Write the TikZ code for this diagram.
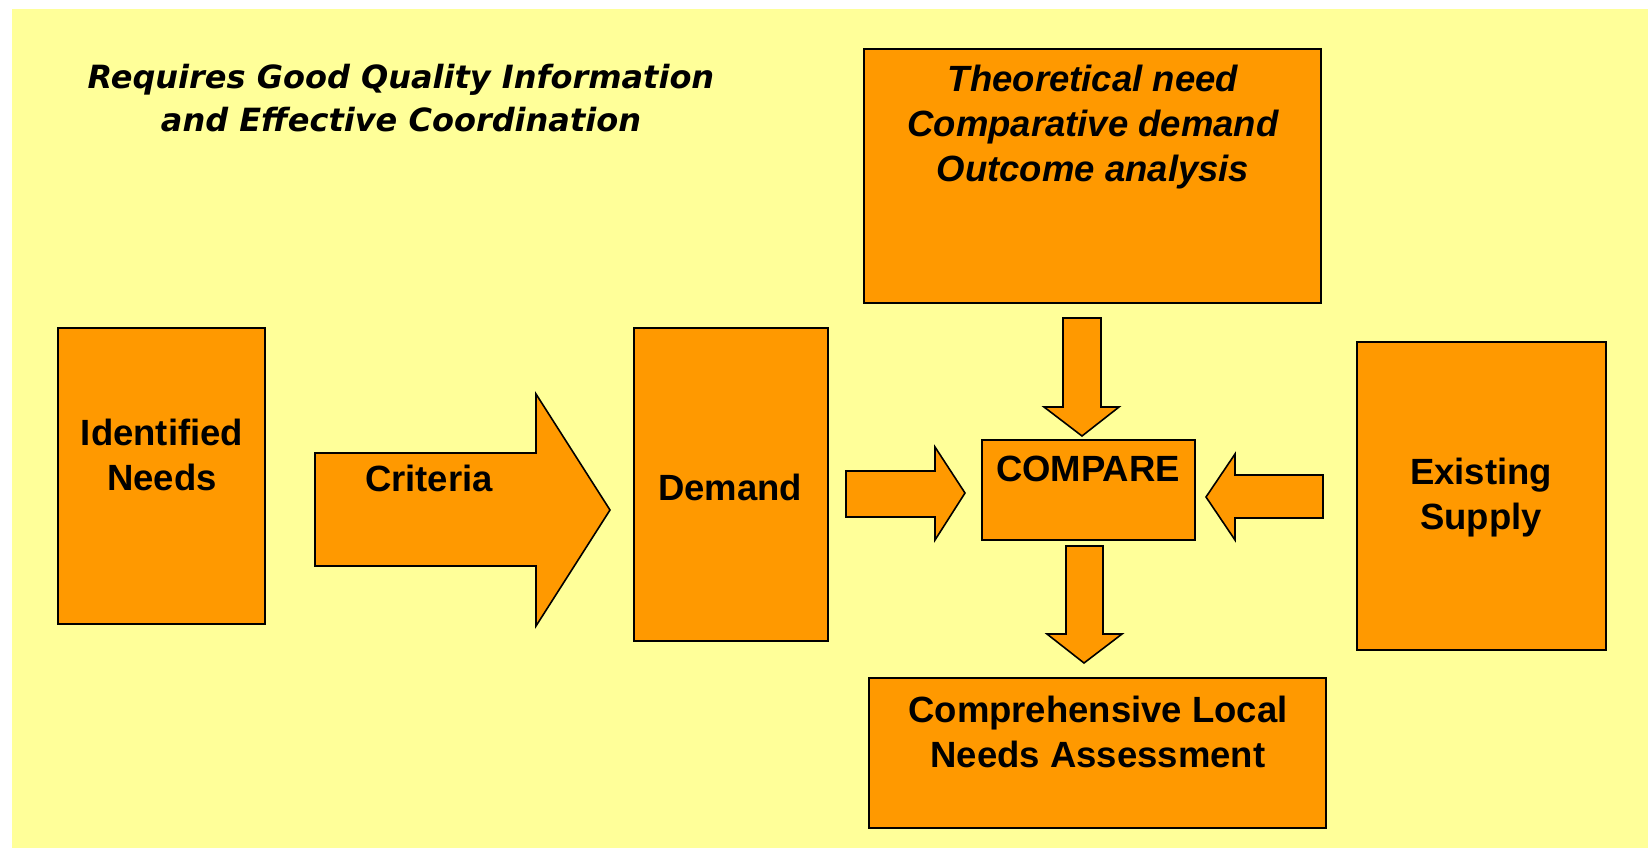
\documentclass[tikz,border=0pt]{standalone}
\usepackage{fontspec}
\setmainfont{Liberation Sans}
\newfontfamily\handfont{DejaVu Sans}
\usetikzlibrary{positioning}
\definecolor{paleyellow}{HTML}{FFFF99}
\definecolor{boxorange}{HTML}{FF9900}
\begin{document}
\begin{tikzpicture}[x=1pt,y=-1pt]

\tikzstyle{bx} = [draw, fill=boxorange, line width=1.6pt, shape=rectangle, inner sep=0pt]
\tikzstyle{ar} = [draw, fill=boxorange, line width=1.6pt, line join=miter]
\tikzstyle{t} = [font=\fontsize{36.5}{45}\selectfont\bfseries, align=center, inner sep=0pt]
\tikzstyle{hand} = [font=\handfont\fontsize{32}{43}\selectfont\bfseries\itshape, align=center, inner sep=0pt]

\useasboundingbox (0,0) rectangle (1648,848);
\fill[paleyellow] (12,9) rectangle (1648,848);

\node[hand] (note) at (401,98) {Requires Good Quality Information\\and Effective Coordination};

% boxes
\node[bx, minimum width=207, minimum height=296] (needs) at (161.5,476) {};
\node[bx, minimum width=194, minimum height=313] (demand) at (731,484.5) {};
\node[bx, minimum width=457, minimum height=254] (theory) at (1092.5,176) {};
\node[bx, minimum width=213, minimum height=100] (compare) at (1088.5,490) {};
\node[bx, minimum width=249, minimum height=308] (supply) at (1481.5,496) {};
\node[bx, minimum width=457, minimum height=150] (assess) at (1097.5,753) {};

% block arrows
\draw[ar] (315,453) -- (536,453) -- (536,394) -- (610,510) -- (536,626) -- (536,566) -- (315,566) -- cycle;
\draw[ar] (846,471) -- (935,471) -- (935,447) -- (965,493) -- (935,540) -- (935,517) -- (846,517) -- cycle;
\draw[ar] (1323,475) -- (1235,475) -- (1235,454) -- (1206,497) -- (1235,540) -- (1235,518) -- (1323,518) -- cycle;
\draw[ar] (1063,318) -- (1101,318) -- (1101,407) -- (1119,407) -- (1082,436) -- (1044,407) -- (1063,407) -- cycle;
\draw[ar] (1066,546) -- (1103,546) -- (1103,634) -- (1122,634) -- (1084,663) -- (1047,634) -- (1066,634) -- cycle;

% texts
\node[t] (needstxt) at (162,455) {Identified\\Needs};
\node[t] (criteria) at (429,478) {Criteria};
\node[t] (demandtxt) at (730,487) {Demand};
\node[t] (comparetxt) at (1088,469) {COMPARE};
\node[t] (supplytxt) at (1481,498) {Existing\\Supply};
\node[t, font=\fontsize{36.5}{45}\selectfont\bfseries\itshape] (theorytxt) at (1093,127) {Theoretical need\\Comparative demand\\Outcome analysis};
\node[t] (assesstxt) at (1098,732) {Comprehensive Local\\Needs Assessment};
\end{tikzpicture}
\end{document}
